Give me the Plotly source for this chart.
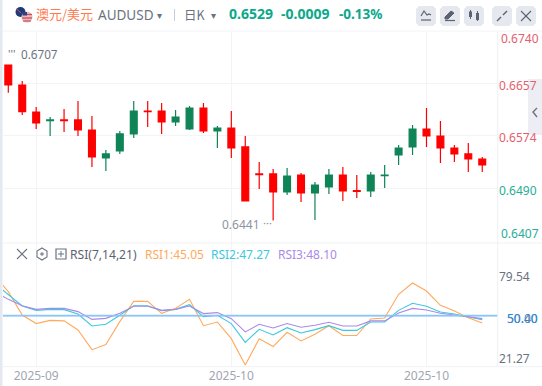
import plotly.graph_objects as go

# ---- data ----
candle_index = list(range(35))
open_ = [0.66865,0.66548,0.66120,0.65985,0.65994,0.65994,0.65835,0.65391,0.65502,0.65772,0.66136,0.66136,0.65962,0.65851,0.66184,0.65819,0.65867,0.65566,0.65138,0.65138,0.64852,0.65122,0.64837,0.64932,0.65122,0.64873,0.64868,0.65112,0.65439,0.65566,0.65851,0.65740,0.65550,0.65455,0.65375]
close = [0.66548,0.66125,0.65946,0.65995,0.65984,0.65835,0.65407,0.65455,0.65772,0.66136,0.66126,0.65962,0.66041,0.66184,0.65819,0.65867,0.65550,0.64710,0.65128,0.64852,0.65106,0.64837,0.64963,0.65122,0.64868,0.64863,0.65122,0.65122,0.65550,0.65851,0.65740,0.65550,0.65455,0.65375,0.65280]
high = [0.66780,0.66612,0.66200,0.66041,0.66168,0.66295,0.66057,0.65518,0.65819,0.66295,0.66295,0.66263,0.66152,0.66216,0.66263,0.65899,0.66136,0.65740,0.65328,0.65217,0.65233,0.65154,0.65011,0.65217,0.65249,0.65122,0.65169,0.65280,0.65597,0.65914,0.66184,0.65978,0.65597,0.65629,0.65407]
low = [0.66426,0.66073,0.65851,0.65740,0.65803,0.65740,0.65249,0.65185,0.65455,0.65708,0.65883,0.65772,0.65899,0.65835,0.65788,0.65550,0.65391,0.64710,0.64900,0.64400,0.64805,0.64694,0.64409,0.64821,0.64710,0.64757,0.64773,0.64916,0.65280,0.65439,0.65566,0.65312,0.65328,0.65169,0.65169]

rsi_index = list(range(-1, 35))
rsi1 = [79.1,67.3,50.7,44.6,46.9,46.5,40.1,26.1,29.7,46.0,60.4,60.4,51.9,55.4,61.8,43.1,45.7,33.9,15.2,33.9,28.3,38.4,32.3,37.0,43.1,36.1,36.1,47.9,48.6,65.4,73.4,67.7,57.6,53.5,48.8,45.05]
rsi2 = [73.2,64.9,57.1,54.0,54.7,54.5,51.4,42.9,44.1,50.5,57.3,57.3,53.8,54.7,58.0,49.5,50.5,44.6,31.3,40.5,36.5,41.7,37.9,40.3,43.1,39.8,39.8,45.7,45.7,54.0,59.0,56.9,52.8,51.4,49.1,47.27]
rsi3 = [67.3,61.8,57.3,54.7,55.4,55.4,53.1,47.6,48.3,51.9,56.9,56.9,54.0,54.7,57.1,51.7,52.4,48.1,38.7,44.1,41.5,44.6,42.0,43.4,45.5,42.9,42.9,46.5,46.5,52.1,55.4,54.3,51.9,50.7,49.3,48.10]
rsi_levels = [50.0, 50.4]

x_tick_vals = [2, 16, 30]
x_tick_text = ["2025-09", "2025-10", "2025-10"]
price_ticks = [0.6657, 0.6574, 0.6490]
price_labels = ["0.6657", "0.6574", "0.6490"]
rsi_ticks = [79.54, 21.27]

W, H = 542, 386
RED, GREEN = "#FF0000", "#0F8457"
GRID = "#F3F4F7"
FONT = "Noto Sans, Open Sans, sans-serif"

def px(v): return v / W
def py(v): return 1 - v / H

fig = go.Figure()
fig.add_trace(go.Candlestick(
    x=candle_index, open=open_, high=high, low=low, close=close,
    increasing=dict(line=dict(color=GREEN, width=1.2), fillcolor=GREEN),
    decreasing=dict(line=dict(color=RED, width=1.2), fillcolor=RED),
    whiskerwidth=0, xaxis="x", yaxis="y", showlegend=False, hoverinfo="skip"))

for vals, col in [(rsi1, "#FFAA5E"), (rsi2, "#3CC9DE"), (rsi3, "#A98AE6")]:
    fig.add_trace(go.Scatter(x=rsi_index, y=vals, mode="lines", line=dict(color=col, width=1.1),
                             xaxis="x2", yaxis="y2", showlegend=False, hoverinfo="skip"))
for lv, col in zip(rsi_levels, ["#74B9F5", "#8CC6F7"]):
    fig.add_trace(go.Scatter(x=[-0.38, 35.13], y=[lv, lv], mode="lines", line=dict(color=col, width=1.2),
                             xaxis="x2", yaxis="y2", showlegend=False, hoverinfo="skip"))

dom_x = [px(3), px(498)]
xr = [-0.38, 35.13]
common = dict(range=xr, domain=dom_x, showline=False, zeroline=False, fixedrange=True,
              rangeslider=dict(visible=False), tickmode="array", tickvals=x_tick_vals,
              showgrid=True, gridcolor=GRID, gridwidth=1, ticks="")
fig.update_layout(
    width=W, height=H, autosize=False, margin=dict(l=0, r=0, t=0, b=0),
    paper_bgcolor="white", plot_bgcolor="white", font=dict(family=FONT, size=12, color="#6B7280"),
    dragmode=False, showlegend=False,
    xaxis=dict(**common, anchor="y", ticktext=["", "", ""], showticklabels=False),
    xaxis2=dict(**common, anchor="y2", ticktext=x_tick_text, showticklabels=True,
                tickfont=dict(size=12, color="#A2A6B2", family=FONT), ticklabelstandoff=0),
    yaxis=dict(domain=[py(243), py(31)], range=[0.64044, 0.67404], side="right", anchor="free",
               position=px(498), tickmode="array", tickvals=price_ticks, ticktext=[
                   '<span style="color:#E4606D">0.6657</span>',
                   '<span style="color:#E4606D">0.6574</span>',
                   '<span style="color:#27AE94">0.6490</span>'],
               showgrid=True, gridcolor=GRID, zeroline=False, fixedrange=True,
               tickfont=dict(size=12), ticklabelshift=2, ticks=""),
    yaxis2=dict(domain=[py(366.7), py(243)], range=[14.0, 101.8], side="right", anchor="free",
                position=px(498), tickmode="array", tickvals=rsi_ticks,
                ticktext=[f"{v:.2f}" for v in rsi_ticks], showgrid=False, zeroline=False,
                fixedrange=True, tickfont=dict(size=12, color="#6B7280"), ticklabelshift=2, ticks=""),
)

shapes, ann = [], []
def rect(x0, y0, x1, y1, fill, line=None, lw=0, layer="below"):
    shapes.append(dict(type="rect", xref="paper", yref="paper", x0=px(x0), x1=px(x1), y0=py(y0), y1=py(y1),
                       fillcolor=fill, line=dict(color=line or fill, width=lw), layer=layer))
def seg(x0, y0, x1, y1, col, lw=1):
    shapes.append(dict(type="line", xref="paper", yref="paper", x0=px(x0), x1=px(x1), y0=py(y0), y1=py(y1),
                       line=dict(color=col, width=lw), layer="above"))
def circ(cx, cy, r, col):
    shapes.append(dict(type="circle", xref="paper", yref="paper", x0=px(cx-r), x1=px(cx+r), y0=py(cy-r), y1=py(cy+r),
                       fillcolor=col, line=dict(color=col, width=0), layer="above"))
def path(d, col, fill="rgba(0,0,0,0)", lw=1):
    shapes.append(dict(type="path", xref="paper", yref="paper", path=d, line=dict(color=col, width=lw), fillcolor=fill, layer="above"))
def P(*pts):
    return "M" + " L".join(f"{px(a):.5f},{py(b):.5f}" for a, b in pts)
def text(x, y, s, col, size=12, anchor="left", bold=False, family=FONT):
    ann.append(dict(xref="paper", yref="paper", x=px(x), y=py(y), text=f"<b>{s}</b>" if bold else s, showarrow=False,
                    xanchor=anchor, yanchor="middle", font=dict(size=size, color=col, family=family), borderpad=0, borderwidth=0))

# frame lines
rect(0, 0, 2.5, H, "#E4E8F0")
seg(3, 243, 542, 243, "#F0F1F5", 1)
seg(3, 366.7, 542, 366.7, "#F0F1F5", 1)
seg(497.7, 31, 497.7, 366.7, "#EFF0F4", 1)
seg(3, 31, 542, 31, "#F3F4F7", 1)
# side collapse tab
rect(528, 79, 542, 135, "#EDEEF3")
path(P((537, 108), (533, 112), (537, 117)), "#6B7280", lw=1.4)

# flags
circ(20.5, 12, 5, "#1F3A7A"); circ(27, 17, 5.5, "#E8B9BF")
seg(23, 14.5, 32, 14.5, "#C94A55", 1.2); seg(22, 18, 32, 18, "#C94A55", 1.2); seg(23, 21, 31, 21, "#C94A55", 1.1)
rect(22.5, 12, 27, 15.5, "#2A4286", layer="above")
seg(16.5, 9, 21, 13, "#D8505B", 1)

# header text
text(36, 13.5, "澳元/美元", "#FF7A50", 13, family="Noto Sans CJK SC")
text(98, 15, "AUDUSD", "#6B7280", 13.5)
text(157, 15, "▾", "#6B7280", 10)
seg(174.5, 9, 174.5, 21, "#C9CDD6", 1)
text(184, 14, "日K", "#6B7280", 12.5, family="Noto Sans CJK SC")
text(211, 15, "▾", "#6B7280", 10)
text(229, 13.5, "0.6529", "#0BA88B", 14, bold=True)
text(280.5, 13.5, "-0.0009", "#0BA88B", 14, bold=True)
text(338.5, 13.5, "-0.13%", "#0BA88B", 13.5, bold=True)

# buttons
for x0 in (416, 440, 464, 492, 516):
    shapes.append(dict(type="path", xref="paper", yref="paper", layer="below",
        path=P((x0+3, 6), (x0+17, 6), (x0+20, 9), (x0+20, 23), (x0+17, 26), (x0+3, 26), (x0, 23), (x0, 9)) + " Z",
        fillcolor="#E6E8EF", line=dict(color="#E6E8EF", width=0)))
BTN = "#5C6270"
path(P((421, 16), (424, 11), (427, 15), (429, 14), (431, 15)), BTN, lw=1.2); seg(421, 20, 431, 20, BTN, 1.2)
path(P((445, 17), (451, 11), (454, 13), (448, 19), (445, 19)) + " Z", BTN, fill=BTN); seg(445, 20.5, 455, 20.5, BTN, 1.2)
rect(469, 11.5, 472, 17, BTN, layer="above"); seg(470.5, 10, 470.5, 19, BTN, 1)
rect(476, 13, 479, 20, BTN, layer="above"); seg(477.5, 11, 477.5, 21, BTN, 1)
seg(497, 21, 501, 17, BTN, 1.5); seg(503, 15, 507, 11, BTN, 1.5)
seg(521, 11, 531, 21, BTN, 1.1); seg(531, 11, 521, 21, BTN, 1.1)

# price extreme labels
text(8, 53, "'''", "#6B7280", 11)
text(20.5, 53.5, "0.6707", "#6B7280", 11.7)
text(222, 225, "0.6441", "#8E93A0", 12)
text(263, 222, "···", "#8E93A0", 11)

# outer price labels
text(501, 38, "0.6740", "#E4606D", 12)
text(501, 233, "0.6407", "#27AE94", 12)
# RSI 50 level labels
text(507, 318, "50.40", "#6B7280", 12)
text(507, 318, "50.00", "#2F8FE0", 12)

# RSI header
seg(17, 249, 27, 259, "#6B7280", 1.1); seg(27, 249, 17, 259, "#6B7280", 1.1)
path(P((42, 248), (47, 251), (47, 257), (42, 260), (37, 257), (37, 251)) + " Z", "#6B7280", lw=1.1)
circ(42, 254, 1.8, "#8A8F9C")
shapes.append(dict(type="rect", xref="paper", yref="paper", x0=px(56), x1=px(66), y0=py(249), y1=py(259),
                   line=dict(color="#6B7280", width=1.2), layer="above"))
seg(58, 254, 64, 254, "#6B7280", 1); seg(61, 251, 61, 257, "#6B7280", 1)
text(70, 254.5, "RSI(7,14,21)", "#5C6270", 12.1)
text(144.5, 254.5, "RSI1:45.05", "#FFAA5E", 12)
text(211, 254.5, "RSI2:47.27", "#3CC9DE", 12)
text(277.5, 254.5, "RSI3:48.10", "#A98AE6", 12)

fig.update_layout(shapes=shapes, annotations=ann)
fig.write_html("out.html", config=dict(displayModeBar=False),
               post_script="document.body.style.margin='0';document.body.style.overflow='hidden';")
